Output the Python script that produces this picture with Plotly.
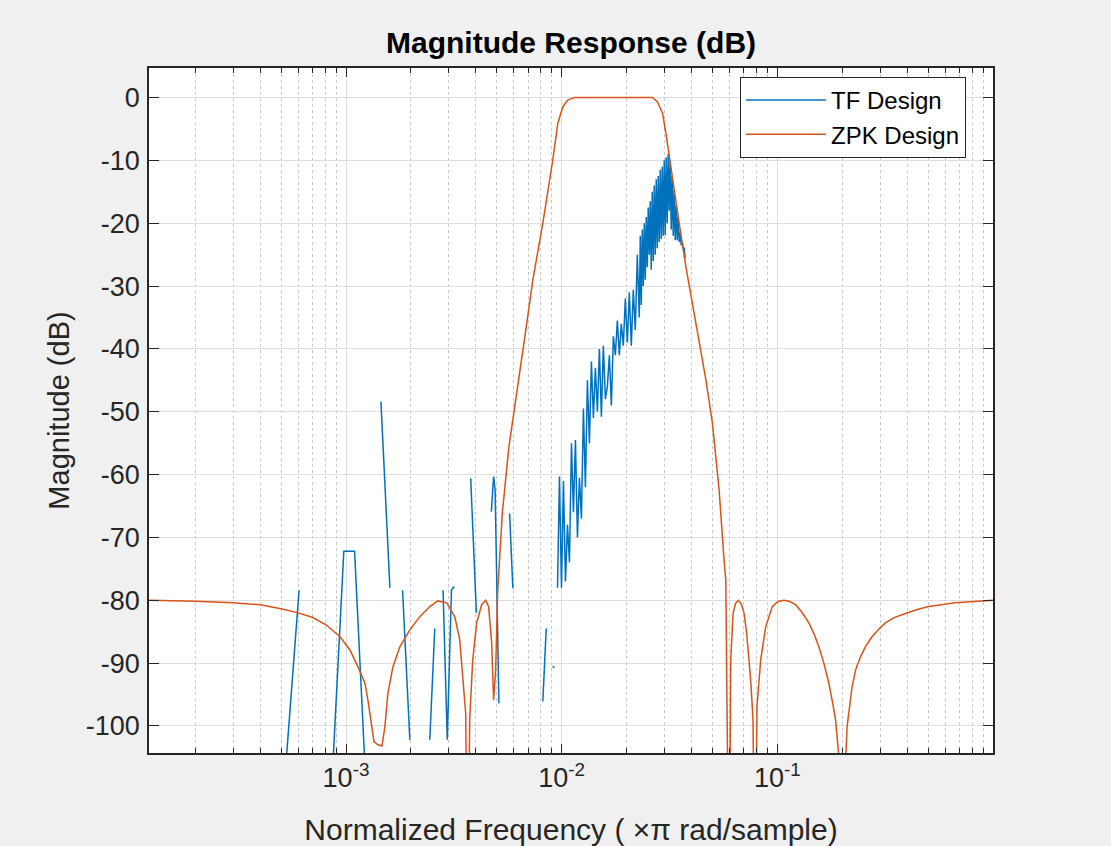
import plotly.graph_objects as go

# ---- ZPK design (orange) : normalized frequency (x pi rad/sample) and magnitude (dB)
zpk_freq = [1.221e-4, 2.0e-4, 3.001e-4, 4.002e-4, 5.058e-4, 5.998e-4, 6.963e-4, 8.082e-4,
            9.380e-4, 1.043e-3, 1.136e-3, 1.224e-3, 1.264e-3, 1.319e-3, 1.348e-3, 1.406e-3,
            1.468e-3, 1.515e-3, 1.564e-3, 1.650e-3, 1.777e-3, 1.977e-3, 2.199e-3, 2.446e-3,
            2.665e-3, 2.932e-3, 3.193e-3, 3.368e-3, 3.477e-3, 3.589e-3, 3.667e-3, 3.746e-3,
            3.868e-3, 4.036e-3, 4.256e-3, 4.441e-3, 4.585e-3, 4.735e-3, 4.836e-3, 4.941e-3,
            5.047e-3, 5.156e-3, 5.306e-3, 5.692e-3, 6.332e-3, 6.800e-3, 7.351e-3, 8.178e-3,
            9.096e-3, 9.594e-3, 1.012e-2, 1.067e-2, 1.146e-2, 1.5e-2, 2.0e-2, 2.639e-2,
            2.783e-2, 2.935e-2, 3.044e-2, 3.152e-2, 3.324e-2, 3.506e-2, 3.766e-2, 4.203e-2,
            4.661e-2, 5.000e-2, 5.369e-2, 5.662e-2, 5.767e-2, 5.973e-2, 6.081e-2, 6.232e-2,
            6.400e-2, 6.594e-2, 6.785e-2, 7.007e-2, 7.195e-2, 7.389e-2, 7.549e-2, 7.711e-2,
            7.877e-2, 8.047e-2, 8.370e-2, 8.829e-2, 9.471e-2, 0.1006, 0.1073, 0.1144,
            0.1215, 0.1300, 0.1400, 0.1477, 0.1557, 0.1643, 0.1733, 0.1808, 0.1861,
            0.1942, 0.2005, 0.2070, 0.2106, 0.2222, 0.2310, 0.2429, 0.2569, 0.2748,
            0.2951, 0.3169, 0.3462, 0.3923, 0.4423, 0.5027, 0.6679, 0.9999]
zpk_db = [-80.0, -80.15, -80.4, -80.7, -81.4, -82.0, -82.7, -83.9,
          -85.8, -87.9, -90.6, -93.2, -95.9, -100.1, -102.5, -103.0,
          -103.2, -100.1, -94.8, -90.6, -87.4, -84.7, -82.6, -81.0,
          -80.1, -80.4, -82.6, -86.3, -91.6, -98.0, -130.0, -99.0,
          -89.5, -83.6, -80.7, -80.0, -81.0, -86.8, -95.9, -91.1,
          -78.8, -73.6, -66.1, -55.6, -44.9, -37.3, -29.0, -20.0,
          -9.9, -4.1, -1.5, -0.4, 0.0, 0.0, 0.0, 0.0,
          -0.7, -2.5, -5.7, -9.4, -14.7, -20.0, -26.9, -35.9,
          -44.9, -51.8, -62.4, -73.6, -76.8, -130.0, -89.5, -82.1,
          -80.5, -80.0, -80.5, -82.0, -85.0, -89.5, -93.5, -99.0,
          -130.0, -96.9, -89.5, -84.2, -81.0, -80.2, -80.0, -80.2,
          -80.7, -81.9, -83.6, -85.3, -87.4, -90.0, -93.2, -96.5, -99.0,
          -106.0, -130.0, -106.0, -100.1, -93.7, -91.0, -89.0, -87.3, -85.8,
          -84.6, -83.6, -82.8, -82.1, -81.5, -81.0, -80.4, -80.0]

# ---- TF design (blue) : broken, numerically noisy response; None marks a gap
tf_freq = [5.11e-4, 6.06e-4, None,
           8.52e-4, 9.77e-4, 1.096e-3, 1.247e-3, None,
           1.452e-3, 1.598e-3, None,
           1.829e-3, 1.977e-3, None,
           2.446e-3, 2.580e-3, None,
           2.818e-3, 2.948e-3, 3.082e-3, 3.176e-3, None,
           3.786e-3, 4.023e-3, None,
           4.720e-3, 4.836e-3, 4.914e-3, 5.117e-3, None,
           5.735e-3, 5.940e-3, None,
           8.177e-3, 8.479e-3, None,
           9.067e-3, 9.262e-3, None,
           9.563e-3, 9.769e-3, 9.979e-3, 1.0193e-2, 1.0413e-2, 1.0637e-2, 1.0866e-2, 1.1100e-2,
           1.1339e-2, 1.1583e-2, 1.1832e-2, 1.2087e-2, 1.2347e-2, 1.2613e-2, 1.2885e-2, 1.3162e-2,
           1.3446e-2, 1.3735e-2, 1.4031e-2, 1.4333e-2, 1.4641e-2, 1.4957e-2, 1.5279e-2, 1.5608e-2,
           1.5944e-2, 1.6287e-2, 1.6638e-2, 1.6996e-2, 1.7362e-2, 1.7736e-2, 1.8118e-2, 1.8508e-2,
           1.8906e-2, 1.9313e-2, 1.9729e-2, 2.0154e-2, 2.0588e-2, 2.1031e-2, 2.1484e-2, 2.1946e-2,
           2.2419e-2,
           2.2901e-2, 2.3146e-2, 2.3394e-2, 2.3644e-2, 2.3898e-2, 2.4154e-2, 2.4412e-2, 2.4674e-2,
           2.4938e-2, 2.5205e-2, 2.5475e-2, 2.5748e-2, 2.6023e-2, 2.6302e-2, 2.6583e-2, 2.6868e-2,
           2.7155e-2, 2.7446e-2, 2.7740e-2, 2.8037e-2, 2.8337e-2, 2.8640e-2, 2.8947e-2, 2.9257e-2,
           2.9570e-2, 2.9887e-2, 3.0207e-2, 3.0530e-2, 3.0857e-2, 3.1187e-2, 3.1521e-2, 3.1859e-2,
           3.2200e-2, 3.2545e-2, 3.2893e-2, 3.3245e-2, 3.3601e-2, 3.3961e-2, 3.4325e-2, 3.4692e-2,
           3.5064e-2, 3.5439e-2, 3.5818e-2, 3.6202e-2, 3.6589e-2, 3.6981e-2, 3.7377e-2]
tf_db = [-112.0, -78.4, None,
         -112.0, -72.2, -72.2, -112.0, None,
         -48.4, -78.0, None,
         -78.4, -102.2, None,
         -102.2, -84.5, None,
         -78.4, -102.2, -78.4, -77.8, None,
         -60.6, -82.0, None,
         -65.9, -60.3, -62.5, -96.4, None,
         -66.2, -78.1, None,
         -96.1, -84.5, None,
         -90.5, -90.7, None,
         -78.0, -60.3, -78.0, -61.0, -77.0, -68.0, -74.0, -55.0,
         -66.0, -54.5, -70.0, -60.5, -67.0, -49.5, -62.0, -45.0,
         -55.0, -42.0, -51.0, -43.0, -50.0, -40.0, -50.8, -39.5,
         -48.0, -46.0, -41.0, -49.0, -38.0, -41.0, -35.5, -41.0,
         -36.0, -39.5, -32.0, -39.0, -31.0, -39.5, -30.6, -37.0,
         -25.0,
         -35.0, -22.0, -33.0, -21.0, -30.0, -20.0, -29.0, -19.0,
         -27.0, -17.5, -25.0, -16.5, -27.4, -15.0, -26.0, -14.0,
         -25.0, -13.0, -24.0, -12.5, -23.0, -11.5, -22.5, -11.0,
         -22.0, -10.0, -21.9, -9.5, -20.0, -9.0, -18.0, -10.0,
         -21.0, -12.5, -22.0, -14.7, -22.7, -17.2, -22.7, -19.0,
         -23.0, -21.5, -23.5, -23.0, -24.0, -24.0, -25.5]

xtick_vals = [1e-3, 1e-2, 1e-1]
xtick_text = ["10<sup>-3</sup>", "10<sup>-2</sup>", "10<sup>-1</sup>"]
xminor_vals = [m * 10.0 ** e for e in (-4, -3, -2, -1) for m in range(2, 10)]
ytick_vals = [0, -10, -20, -30, -40, -50, -60, -70, -80, -90, -100]
ytick_text = ["0", "-10", "-20", "-30", "-40", "-50", "-60", "-70", "-80", "-90", "-100"]

AX = "#262626"
FONT = "Arial, Liberation Sans, sans-serif"

fig = go.Figure()
fig.add_trace(go.Scatter(x=tf_freq, y=tf_db, mode="lines", name="TF Design",
                         line=dict(color="#0072BD", width=1.5), connectgaps=False))
fig.add_trace(go.Scatter(x=zpk_freq, y=zpk_db, mode="lines", name="ZPK Design",
                         line=dict(color="#D95319", width=1.5)))

fig.update_layout(
    width=1111, height=846,
    paper_bgcolor="#F0F0F0", plot_bgcolor="#FFFFFF",
    margin=dict(l=149, r=118, t=68, b=93, autoexpand=False),
    font=dict(family=FONT, color=AX, size=26),
    title=dict(text="<b>Magnitude Response (dB)</b>", x=0.514, xanchor="center",
               y=1 - 42 / 846, yanchor="middle", yref="container",
               font=dict(size=30, color="#000000")),
    legend=dict(x=0.7002, y=0.9869, xanchor="left", yanchor="top",
                bgcolor="#FFFFFF", bordercolor=AX, borderwidth=1,
                font=dict(size=24, color="#000000"), itemwidth=80,
                tracegroupgap=0),
    showlegend=True,
)
fig.update_xaxes(
    type="log", range=[-3.9134, -0.0001],
    tickvals=xtick_vals, ticktext=xtick_text,
    ticks="inside", ticklen=9, tickcolor=AX, tickwidth=1,
    showline=True, linecolor=AX, linewidth=1.5, mirror="allticks",
    showgrid=True, gridcolor="#DEDEDE", gridwidth=1,
    minor=dict(tickvals=xminor_vals, ticks="inside", ticklen=5, tickcolor=AX,
               showgrid=True, gridcolor="#C8C8C8", griddash="dot", gridwidth=1),
    tickfont=dict(size=27, color=AX),
    title=dict(text="Normalized Frequency ( ×π rad/sample)", font=dict(size=30, color=AX), standoff=27),
    zeroline=False,
)
fig.update_yaxes(
    range=[-104.3, 4.7],
    tickvals=ytick_vals, ticktext=ytick_text,
    ticks="inside", ticklen=10, tickcolor=AX, tickwidth=1,
    showline=True, linecolor=AX, linewidth=1.5, mirror="allticks",
    showgrid=True, gridcolor="#DEDEDE", gridwidth=1,
    tickfont=dict(size=27, color=AX), ticklabelstandoff=2,
    title=dict(text="Magnitude (dB)", font=dict(size=29, color=AX), standoff=8),
    zeroline=False,
)

fig.write_html("out.html", config={"displayModeBar": False},
               post_script="document.body.style.margin='0px';")
